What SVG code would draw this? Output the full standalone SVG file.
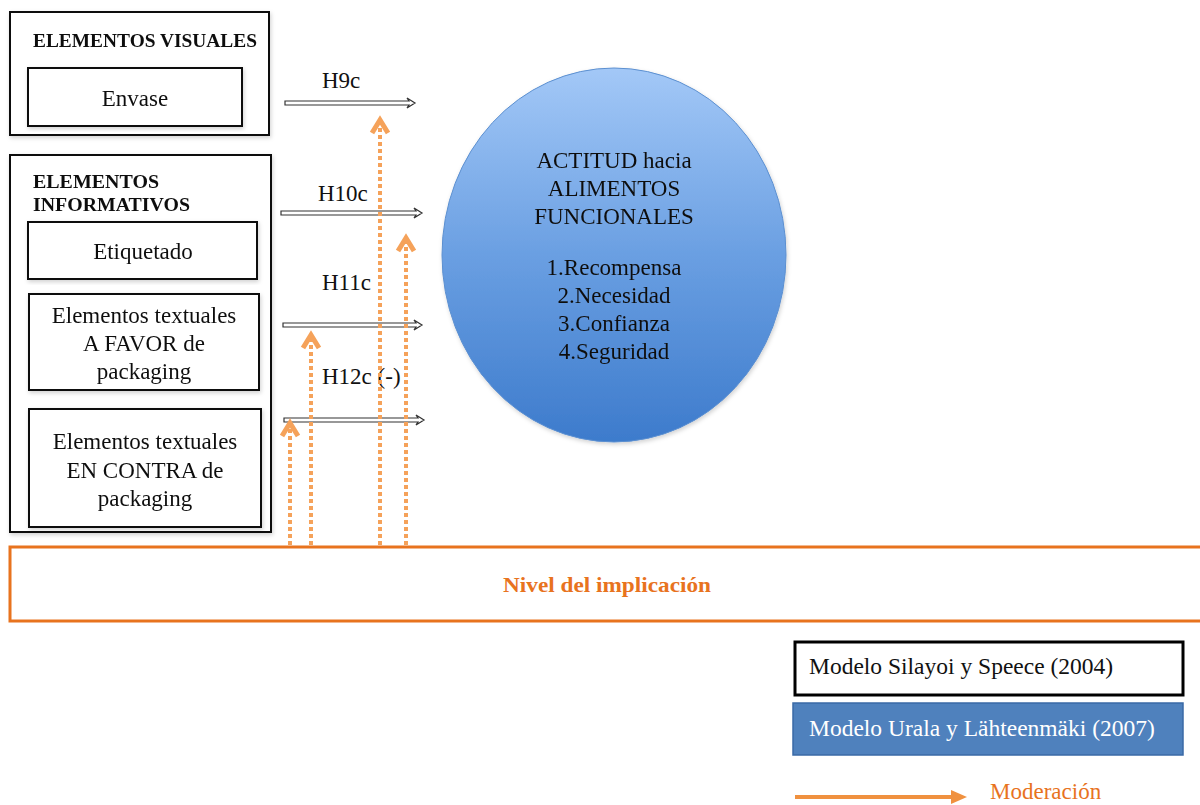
<svg xmlns="http://www.w3.org/2000/svg" width="1200" height="805" viewBox="0 0 1200 805">
  <defs>
    <linearGradient id="ballFill" x1="0" y1="0" x2="0" y2="1">
      <stop offset="0" stop-color="#a3c8f7"/>
      <stop offset="0.5" stop-color="#6a9fe2"/>
      <stop offset="1" stop-color="#3d7bcc"/>
    </linearGradient>
    <filter id="soft" x="-10%" y="-10%" width="120%" height="120%">
      <feDropShadow dx="1" dy="2" stdDeviation="2" flood-color="#000" flood-opacity="0.18"/>
    </filter>
    <marker id="orangeHead" markerWidth="16" markerHeight="14" refX="4" refY="7" orient="auto" markerUnits="userSpaceOnUse">
      <path d="M0,0 L16,7 L0,14 z" fill="#f0913f"/>
    </marker>
    <style>
      text { font-family: "Liberation Serif", "DejaVu Serif", "Noto Serif", serif; }
      .box { fill: #fff; stroke: #111; stroke-width: 2; }
      .title { font-weight: bold; font-size: 18px; fill: #111; }
      .lbl { font-size: 23px; fill: #111; text-anchor: middle; }
      .hl { font-size: 23px; fill: #111; }
      .hollow { fill: #fff; stroke: #333; stroke-width: 1.2; }
      .mod { fill: none; stroke: #f5a25a; stroke-width: 4; stroke-dasharray: 4 3; }
      .modHead { fill: none; stroke: #f5a25a; stroke-width: 5; stroke-linejoin: miter; }
    </style>
  </defs>

  <!-- visual elements group -->
  <g id="visuales" filter="url(#soft)">
    <rect class="box" x="10" y="12" width="259" height="123"/>
    <text class="title" x="33" y="47" textLength="224" lengthAdjust="spacingAndGlyphs">ELEMENTOS VISUALES</text>
  </g>
  <g id="envase" filter="url(#soft)">
    <rect class="box" x="28" y="68" width="214" height="58"/>
    <text class="lbl" x="135" y="106">Envase</text>
  </g>

  <!-- informative elements group -->
  <g id="informativos" filter="url(#soft)">
    <rect class="box" x="10" y="155" width="261" height="377"/>
    <text class="title" x="33" y="188" textLength="126" lengthAdjust="spacingAndGlyphs">ELEMENTOS</text>
    <text class="title" x="33" y="211" textLength="157" lengthAdjust="spacingAndGlyphs">INFORMATIVOS</text>
  </g>
  <g id="etiquetado" filter="url(#soft)">
    <rect class="box" x="28" y="222" width="229" height="57"/>
    <text class="lbl" x="143" y="259">Etiquetado</text>
  </g>
  <g id="favor" filter="url(#soft)">
    <rect class="box" x="29" y="294" width="230" height="96"/>
    <text class="lbl" x="144" y="323">Elementos textuales</text>
    <text class="lbl" x="144" y="351">A FAVOR de</text>
    <text class="lbl" x="144" y="379">packaging</text>
  </g>
  <g id="contra" filter="url(#soft)">
    <rect class="box" x="29" y="409" width="232" height="118"/>
    <text class="lbl" x="145" y="449">Elementos textuales</text>
    <text class="lbl" x="145" y="478">EN CONTRA de</text>
    <text class="lbl" x="145" y="506">packaging</text>
  </g>

  <!-- attitude ellipse -->
  <g id="actitud" filter="url(#soft)">
    <ellipse cx="614" cy="255" rx="172" ry="187" fill="url(#ballFill)" stroke="#5b8fd0" stroke-width="1"/>
    <text class="lbl" x="614" y="168">ACTITUD hacia</text>
    <text class="lbl" x="614" y="196">ALIMENTOS</text>
    <text class="lbl" x="614" y="224">FUNCIONALES</text>
    <text class="lbl" x="614" y="275">1.Recompensa</text>
    <text class="lbl" x="614" y="303">2.Necesidad</text>
    <text class="lbl" x="614" y="331">3.Confianza</text>
    <text class="lbl" x="614" y="359">4.Seguridad</text>
  </g>

  <!-- involvement band -->
  <g id="implicacion">
    <rect x="10" y="547" width="1200" height="74" fill="#fff" stroke="#e8731e" stroke-width="3"/>
    <text x="607" y="592" text-anchor="middle" font-weight="bold" font-size="22" fill="#e8731e" textLength="208" lengthAdjust="spacingAndGlyphs">Nivel del implicación</text>
  </g>

  <!-- connectors -->
  <g id="connectors">
    <!-- hypothesis arrows (hollow) -->
    <path class="hollow" d="M285,101 L409,101 L407,98 L415,103 L407,108 L409,105 L285,105 Z"/>
    <path class="hollow" d="M281,211 L416,211 L414,208 L422,213 L414,218 L416,215 L281,215 Z"/>
    <path class="hollow" d="M283,323 L416,323 L414,320 L422,325 L414,330 L416,327 L283,327 Z"/>
    <path class="hollow" d="M284,418 L418,418 L416,415 L424,420 L416,425 L418,422 L284,422 Z"/>
    <text class="hl" x="322" y="88">H9c</text>
    <text class="hl" x="318" y="201">H10c</text>
    <text class="hl" x="322" y="290">H11c</text>
    <text class="hl" x="322" y="384">H12c (-)</text>

    <!-- moderation arrows (dotted, from the involvement band) -->
    <line class="mod" x1="290" y1="545" x2="290" y2="427"/>
    <polyline class="modHead" points="282,436 290,423 298,436"/>
    <line class="mod" x1="311" y1="545" x2="311" y2="339"/>
    <polyline class="modHead" points="303,348 311,335 319,348"/>
    <line class="mod" x1="380" y1="545" x2="380" y2="124"/>
    <polyline class="modHead" points="372,133 380,120 388,133"/>
    <line class="mod" x1="406" y1="545" x2="406" y2="242"/>
    <polyline class="modHead" points="398,251 406,238 414,251"/>
  </g>

  <!-- legend -->
  <g id="leyenda-silayoi">
    <rect x="795" y="642" width="388" height="53" fill="#fff" stroke="#000" stroke-width="3"/>
    <text x="809" y="674" font-size="23.5" fill="#111">Modelo Silayoi y Speece (2004)</text>
  </g>
  <g id="leyenda-urala">
    <rect x="793" y="703" width="390" height="52" fill="#4f81bd" stroke="#3a6aa6" stroke-width="1.5"/>
    <text x="809" y="736" font-size="23.5" fill="#fff">Modelo Urala y Lähteenmäki (2007)</text>
  </g>
  <g id="leyenda-moderacion">
    <line x1="795" y1="797" x2="955" y2="797" stroke="#f0913f" stroke-width="4" marker-end="url(#orangeHead)"/>
    <text x="990" y="799" font-size="23" fill="#e8731e">Moderación</text>
  </g>
</svg>
